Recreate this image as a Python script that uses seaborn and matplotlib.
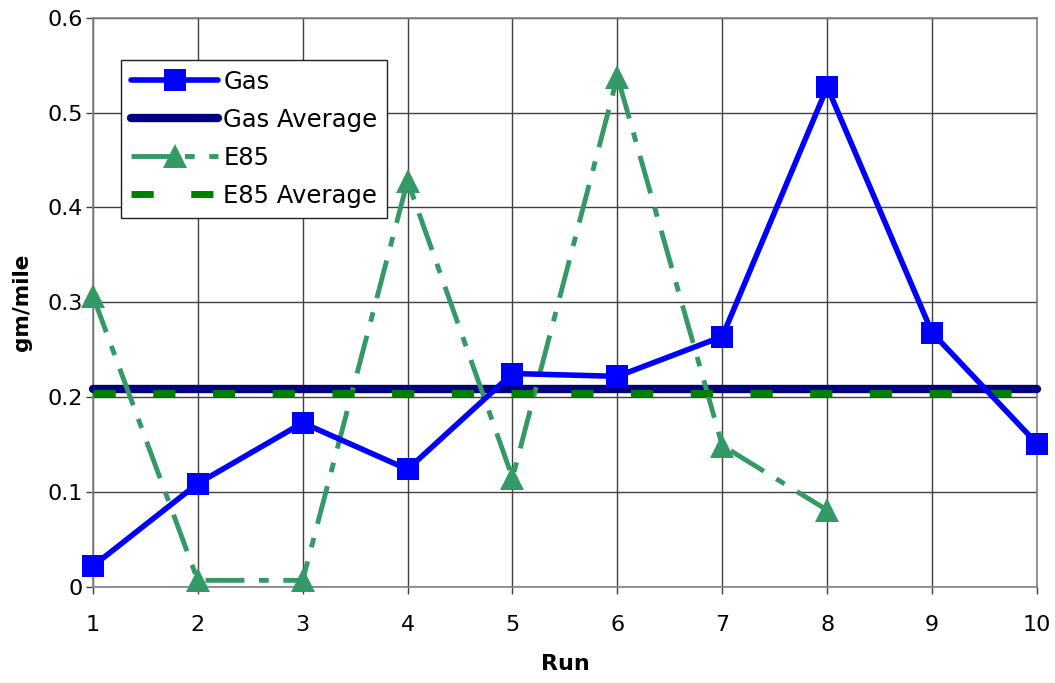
import numpy as np
import pandas as pd
import matplotlib
matplotlib.use("Agg")
import matplotlib.pyplot as plt
import seaborn as sns

runs = [1, 2, 3, 4, 5, 6, 7, 8, 9, 10]
gas = [0.022, 0.109, 0.173, 0.124, 0.225, 0.222, 0.264, 0.527, 0.268, 0.151]
e85_runs = [1, 2, 3, 4, 5, 6, 7, 8]
e85 = [0.307, 0.007, 0.007, 0.428, 0.115, 0.538, 0.149, 0.081]
gas_avg = 0.2085
e85_avg = 0.2045

sns.set_theme(style="white")
plt.rcParams['font.family'] = ['DejaVu Sans']
plt.rcParams['text.color'] = 'black'
plt.rcParams['axes.labelcolor'] = 'black'
plt.rcParams['xtick.color'] = 'black'
plt.rcParams['ytick.color'] = 'black'

fig = plt.figure(figsize=(10.55, 6.83), dpi=100)
ax = fig.add_axes([0.088, 0.1406, 0.895, 0.8334])

gas_df = pd.DataFrame({"Run": runs, "v": gas})
e85_df = pd.DataFrame({"Run": e85_runs, "v": e85})
gavg_df = pd.DataFrame({"Run": runs, "v": [gas_avg] * len(runs)})
eavg_df = pd.DataFrame({"Run": runs, "v": [e85_avg] * len(runs)})

sns.lineplot(data=gas_df, x="Run", y="v", ax=ax, color="#0000FF", lw=4,
             marker="s", markersize=16, markeredgewidth=0, label="Gas", zorder=5)
sns.lineplot(data=gavg_df, x="Run", y="v", ax=ax, color="#000080", lw=6,
             solid_capstyle="round", label="Gas Average", zorder=3)
sns.lineplot(data=e85_df, x="Run", y="v", ax=ax, color="#339966", lw=3.5,
             marker="^", markersize=17, markeredgewidth=0, label="E85", zorder=4)
ax.lines[-1].set_dashes([8, 3, 2, 3])
sns.lineplot(data=eavg_df, x="Run", y="v", ax=ax, color="#008000", lw=5,
             label="E85 Average", zorder=4)
ax.lines[-1].set_dashes([3.2, 5.4])
ax.lines[-1].set_dash_capstyle("butt")

ax.set_xlim(1, 10)
ax.set_ylim(0, 0.6)
ax.set_xticks(runs)
ax.set_yticks([0, 0.1, 0.2, 0.3, 0.4, 0.5, 0.6])
ax.set_yticklabels(["0", "0.1", "0.2", "0.3", "0.4", "0.5", "0.6"])
ax.grid(True, color="#404040", lw=1)
ax.set_axisbelow(True)
for s in ax.spines.values():
    s.set_color("#808080")
    s.set_linewidth(1.2)
ax.tick_params(axis="both", which="both", direction="out", length=5, width=1,
               color="#404040", labelsize=16, left=True, bottom=True,
               labelcolor="black")
ax.tick_params(axis="x", pad=15)
ax.tick_params(axis="y", pad=2)
for l in ax.lines:
    l.set_clip_on(False)

ax.set_xlabel("Run", fontsize=16, fontweight="bold", labelpad=14, color="black")
ax.set_ylabel("gm/mile", fontsize=15.5, fontweight="bold", labelpad=11, color="black")

leg = ax.legend(loc="upper left", bbox_to_anchor=(0.030, 0.926), fontsize=17.5,
                frameon=True, fancybox=False, edgecolor="#202020", framealpha=1,
                handlelength=3.6, handletextpad=0.2, borderpad=0.4,
                labelspacing=0.58, borderaxespad=0)
leg.get_frame().set_linewidth(1)
for t in leg.get_texts():
    t.set_color("black")

fig.savefig("out.png", dpi=100)
